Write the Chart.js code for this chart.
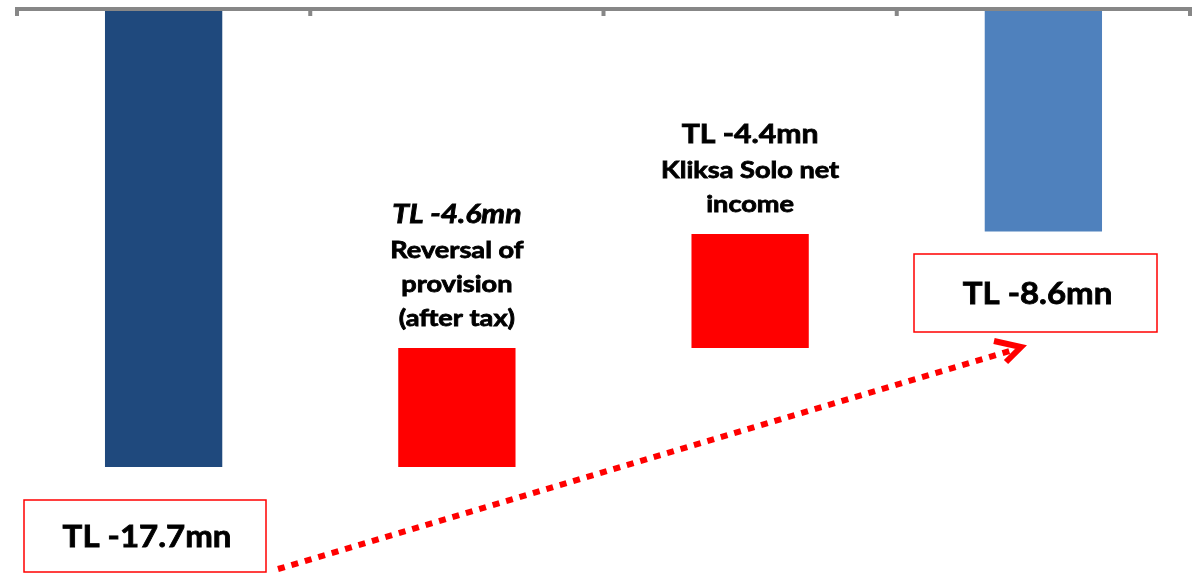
<!DOCTYPE html>
<html>
<head>
<meta charset="utf-8">
<script src="https://cdn.jsdelivr.net/npm/chart.js@4.4.1/dist/chart.umd.min.js"></script>
<style>
  html, body { margin: 0; padding: 0; background: #ffffff; }
  #wrap { width: 1196px; height: 573px; position: relative; }
</style>
</head>
<body>
<div id="wrap"><canvas id="c"></canvas></div>
<script>
// Net income bridge (TL mn)
const categories = ['start', 'provision', 'kliksa', 'end'];
const totals = [-17.7, null, null, -8.6];        // full bars hanging from zero
const changes = [null, 4.6, 4.4, null];          // floating steps
const stepTitles = [null, 'TL -4.6mn', 'TL -4.4mn', null];
const stepNotes = [null, ['Reversal of', 'provision', '(after tax)'], ['Kliksa Solo net', 'income'], null];
const barColors = ['#1F497D', '#FF0000', '#FF0000', '#4F81BD'];

// Build floating ranges for the waterfall
const ranges = [];
let level = 0;
categories.forEach((c, i) => {
  if (totals[i] !== null) {
    ranges.push([0, totals[i]]);
    level = totals[i];
  } else {
    ranges.push([level, level + changes[i]]);
    level = level + changes[i];
  }
});

const FONT = 'Lato, "Open Sans", sans-serif';

// draws heavy text horizontally stretched by sx, anchored at centre x
function wideText(ctx, text, cx, y, sx) {
  ctx.save();
  ctx.translate(cx, y);
  ctx.scale(sx, 1);
  ctx.fillText(text, 0, 0);
  ctx.strokeStyle = ctx.fillStyle;
  ctx.lineWidth = 0.8;
  ctx.strokeText(text, 0, 0);
  ctx.restore();
}

const decor = {
  id: 'decor',
  afterDatasetsDraw(chart) {
    const ctx = chart.ctx;
    const area = chart.chartArea;
    const y = chart.scales.y;
    const meta = chart.getDatasetMeta(0);
    const y0 = y.getPixelForValue(0);

    // top axis line with ticks between categories
    ctx.save();
    ctx.strokeStyle = '#878787';
    ctx.lineWidth = 4;
    ctx.beginPath();
    ctx.moveTo(area.left - 2, y0);
    ctx.lineTo(area.right + 2, y0);
    ctx.stroke();
    for (let i = 0; i <= categories.length; i++) {
      const px = area.left + (area.right - area.left) * i / categories.length;
      ctx.beginPath();
      ctx.moveTo(px, y0);
      ctx.lineTo(px, y0 + 7);
      ctx.stroke();
    }
    ctx.restore();

    // step labels above floating bars
    ctx.save();
    ctx.fillStyle = '#000000';
    ctx.textAlign = 'center';
    ctx.textBaseline = 'alphabetic';
    meta.data.forEach((bar, i) => {
      if (!stepTitles[i]) return;
      const top = Math.min(bar.y, bar.base);
      const notes = stepNotes[i];
      const lineH = 34;
      const lastBase = top - 22;
      ctx.font = 'bold 23px ' + FONT;
      for (let k = 0; k < notes.length; k++) {
        wideText(ctx, notes[k], bar.x, lastBase - (notes.length - 1 - k) * lineH, 1.18);
      }
      ctx.font = (i === 1 ? 'italic ' : '') + 'bold 26px ' + FONT;
      wideText(ctx, stepTitles[i], bar.x, lastBase - (notes.length - 1) * lineH - 35, 1.16);
    });
    ctx.restore();

    // boxed totals
    const boxes = [
      { i: 0, cx: 145, top: 500, w: 242, h: 72 },
      { i: 3, cx: 1035.5, top: 254, w: 243, h: 78 }
    ];
    ctx.save();
    boxes.forEach(b => {
      ctx.fillStyle = '#ffffff';
      ctx.fillRect(b.cx - b.w / 2, b.top, b.w, b.h);
      ctx.strokeStyle = '#FF0000';
      ctx.lineWidth = 1.5;
      ctx.strokeRect(b.cx - b.w / 2, b.top, b.w, b.h);
      ctx.fillStyle = '#000000';
      ctx.font = 'bold 30px ' + FONT;
      ctx.textAlign = 'center';
      ctx.textBaseline = 'alphabetic';
      wideText(ctx, 'TL ' + totals[b.i].toFixed(1) + 'mn', b.cx + 2, b.top + b.h / 2 + 11, 1.1);
    });
    ctx.restore();

    // dotted trend arrow
    const ax0 = 278, ay0 = 569, ax1 = 1021, ay1 = 347;
    ctx.save();
    ctx.strokeStyle = '#FF0000';
    ctx.lineWidth = 6;
    ctx.setLineDash([7, 7]);
    ctx.beginPath();
    ctx.moveTo(ax0, ay0);
    ctx.lineTo(ax1 - 8, ay1 + 3);
    ctx.stroke();
    ctx.setLineDash([]);
    ctx.lineWidth = 6;
    ctx.lineJoin = 'miter';
    ctx.beginPath();
    ctx.moveTo(994, 341);
    ctx.lineTo(ax1, ay1);
    ctx.lineTo(1006, 362);
    ctx.stroke();
    ctx.restore();
  }
};

new Chart(document.getElementById('c'), {
  type: 'bar',
  data: {
    labels: categories,
    datasets: [{
      data: ranges,
      backgroundColor: barColors,
      borderWidth: 0,
      barPercentage: 0.4,
      categoryPercentage: 1.0
    }]
  },
  options: {
    responsive: true,
    maintainAspectRatio: false,
    animation: false,
    layout: { padding: { left: 17, right: 6, top: 9, bottom: 0 } },
    plugins: { legend: { display: false }, tooltip: { enabled: false } },
    scales: {
      x: { display: false },
      y: { display: false, min: -21.8, max: 0 }
    }
  },
  plugins: [decor]
});
</script>
</body>
</html>
